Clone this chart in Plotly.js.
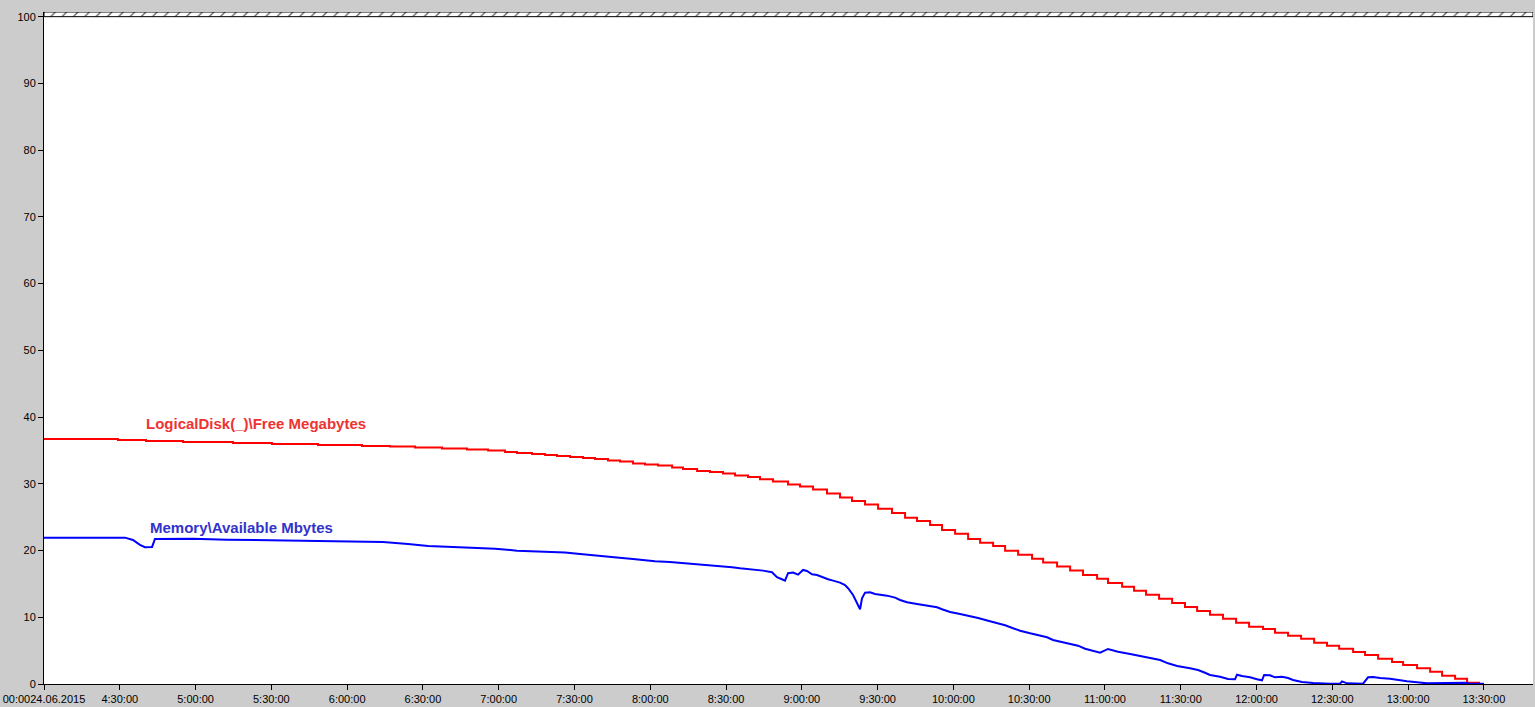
<!DOCTYPE html>
<html>
<head>
<meta charset="utf-8">
<script src="https://cdn.plot.ly/plotly-3.0.1.min.js"></script>
<style>
html,body{margin:0;padding:0;background:#cccccc;}
#chart{width:1535px;height:707px;}
</style>
</head>
<body>
<div id="chart"></div>
<script>
// Time axis in decimal hours of 24.06.2015
const tickHours = [4, 4.5, 5, 5.5, 6, 6.5, 7, 7.5, 8, 8.5, 9, 9.5, 10, 10.5, 11, 11.5, 12, 12.5, 13, 13.5];
const tickLabels = ["00:0024.06.2015", "4:30:00", "5:00:00", "5:30:00", "6:00:00", "6:30:00", "7:00:00", "7:30:00",
  "8:00:00", "8:30:00", "9:00:00", "9:30:00", "10:00:00", "10:30:00", "11:00:00", "11:30:00",
  "12:00:00", "12:30:00", "13:00:00", "13:30:00"];
const yTicks = [0, 10, 20, 30, 40, 50, 60, 70, 80, 90, 100];

const diskName = "LogicalDisk(_)\\Free Megabytes";
const diskHours = [4.000, 4.488, 4.673, 4.917, 5.247, 5.504, 5.808, 6.098, 6.283, 6.448, 6.626, 6.791, 6.930, 7.042, 7.121,
  7.220, 7.306, 7.385, 7.471, 7.556, 7.636, 7.721, 7.800, 7.886, 7.965, 8.051, 8.144, 8.216, 8.309, 8.394, 8.480,
  8.559, 8.645, 8.724, 8.810, 8.909, 8.988, 9.074, 9.166, 9.252, 9.331, 9.417, 9.503, 9.595, 9.681, 9.760, 9.846,
  9.925, 10.011, 10.097, 10.176, 10.262, 10.341, 10.427, 10.519, 10.592, 10.684, 10.770, 10.855, 10.948, 11.020,
  11.113, 11.192, 11.271, 11.357, 11.443, 11.528, 11.608, 11.693, 11.779, 11.865, 11.951, 12.043, 12.122, 12.208,
  12.294, 12.380, 12.465, 12.545, 12.637, 12.716, 12.802, 12.894, 12.967, 13.059, 13.145, 13.224, 13.310, 13.389, 13.475];
const diskValues = [36.73, 36.58, 36.43, 36.28, 36.13, 35.98, 35.83, 35.68, 35.58, 35.43, 35.28, 35.13, 34.98, 34.78, 34.63,
  34.48, 34.33, 34.18, 34.03, 33.88, 33.73, 33.51, 33.33, 33.03, 32.88, 32.73, 32.43, 32.23, 31.93, 31.78, 31.53,
  31.23, 31.03, 30.69, 30.33, 29.88, 29.58, 29.13, 28.53, 27.93, 27.44, 26.88, 26.28, 25.64, 24.93, 24.44, 23.84,
  23.09, 22.53, 21.74, 21.18, 20.69, 19.98, 19.38, 18.78, 18.19, 17.59, 16.99, 16.34, 15.79, 15.14,
  14.59, 13.99, 13.39, 12.79, 12.14, 11.54, 10.94, 10.39, 9.79, 9.19, 8.59, 8.25, 7.69, 7.24,
  6.79, 6.19, 5.74, 5.29, 4.80, 4.35, 3.79, 3.30, 2.85, 2.35, 1.84, 1.24, 0.79, 0.19, 0.19];

const memName = "Memory\\Available Mbytes";
const memHours = [4.000, 4.534, 4.587, 4.633, 4.666, 4.713, 4.732, 4.983, 5.207, 5.425, 5.689, 6.032, 6.237, 6.402, 6.534,
  6.699, 6.824, 6.976, 7.121, 7.306, 7.438, 7.537, 7.669, 7.768, 7.814, 7.886, 7.952, 8.031, 8.130, 8.216, 8.375,
  8.473, 8.540, 8.592, 8.658, 8.744, 8.803, 8.836, 8.869, 8.889, 8.909, 8.942, 8.975, 9.008, 9.034, 9.067, 9.100,
  9.133, 9.173, 9.206, 9.252, 9.285, 9.305, 9.338, 9.364, 9.384, 9.397, 9.417, 9.450, 9.483, 9.562, 9.615, 9.648,
  9.694, 9.760, 9.846, 9.892, 9.925, 9.978, 10.044, 10.110, 10.163, 10.229, 10.295, 10.341, 10.394, 10.440, 10.506,
  10.558, 10.618, 10.657, 10.717, 10.783, 10.822, 10.869, 10.915, 10.968, 11.020, 11.086, 11.166, 11.232, 11.298,
  11.364, 11.416, 11.476, 11.561, 11.614, 11.660, 11.693, 11.759, 11.812, 11.858, 11.871, 11.904, 11.957, 12.003,
  12.036, 12.050, 12.089, 12.122, 12.168, 12.208, 12.241, 12.300, 12.373, 12.485, 12.551, 12.564, 12.597, 12.703,
  12.736, 12.769, 12.815, 12.881, 12.934, 12.993, 13.059, 13.125, 13.376, 13.409, 13.501];
const memValues = [21.93, 21.93, 21.59, 20.84, 20.49, 20.54, 21.74, 21.78, 21.63, 21.54, 21.48, 21.39, 21.29, 20.99, 20.69,
  20.54, 20.39, 20.28, 19.98, 19.83, 19.69, 19.49, 19.24, 19.09, 18.89, 18.74, 18.59, 18.40, 18.29, 18.14, 17.89,
  17.69, 17.50, 17.35, 17.20, 16.99, 16.75, 16.00, 15.70, 15.49, 16.60, 16.69, 16.39, 17.09, 16.94, 16.45, 16.34,
  16.00, 15.70, 15.49, 15.19, 14.84, 14.35, 13.34, 12.09, 11.20, 12.85, 13.69, 13.75, 13.49, 13.24, 12.94, 12.59,
  12.25, 11.99, 11.74, 11.50, 11.20, 10.79, 10.49, 10.19, 9.90, 9.49, 9.10, 8.80, 8.35, 7.99, 7.60,
  7.35, 7.00, 6.60, 6.30, 6.00, 5.74, 5.29, 4.99, 4.69, 5.25, 4.84, 4.50, 4.20, 3.85,
  3.60, 3.10, 2.70, 2.35, 2.10, 1.69, 1.35, 1.09, 0.75, 0.70, 1.39, 1.20, 1.00, 0.70,
  0.55, 1.35, 1.30, 1.00, 1.09, 0.90, 0.60, 0.30, 0.15, 0.05, 0.05, 0.40, 0.10, 0.05,
  1.00, 1.05, 0.90, 0.80, 0.60, 0.40, 0.25, 0.10, 0.19, 0.05, 0.05];

const xMin = 4, xMax = 13.824, yTop = 100.7;

const traces = [
  { // hatched band above 100
    x: [xMin, xMax, xMax, xMin, xMin], y: [100, 100, yTop, yTop, 100],
    mode: 'lines', fill: 'toself', line: {color: '#000', width: 1},
    fillcolor: 'white',
    fillpattern: {shape: '/', fgcolor: '#555555', bgcolor: 'white', size: 8, solidity: 0.15},
    hoverinfo: 'skip', showlegend: false
  },
  {
    x: diskHours, y: diskValues, name: diskName, mode: 'lines',
    line: {color: '#ff0000', width: 2, shape: 'hv'}, showlegend: false
  },
  {
    x: memHours, y: memValues, name: memName, mode: 'lines',
    line: {color: '#0000ff', width: 2}, showlegend: false
  }
];

const layout = {
  width: 1535, height: 707,
  paper_bgcolor: '#cccccc', plot_bgcolor: '#ffffff',
  margin: {l: 44, r: 2, t: 12, b: 23, pad: 0},
  font: {family: 'Liberation Sans, Arial, sans-serif', size: 11, color: '#000000'},
  xaxis: {
    range: [xMin, xMax], tickvals: tickHours, ticktext: tickLabels,
    showgrid: false, zeroline: false, showline: true, linecolor: '#000', linewidth: 1,
    ticks: 'outside', ticklen: 5, tickcolor: '#000', tickfont: {size: 11, color: '#000'}, fixedrange: true
  },
  yaxis: {
    range: [0, yTop], tickvals: yTicks,
    showgrid: false, zeroline: false, showline: true, linecolor: '#000', linewidth: 1,
    ticks: 'outside', ticklen: 5, tickcolor: '#000', tickfont: {size: 11, color: '#000'}, fixedrange: true
  },
  annotations: [
    {x: 4.66, y: 39.0, xref: 'x', yref: 'y', text: diskName, showarrow: false, xanchor: 'left', yanchor: 'middle',
     font: {family: 'Liberation Sans, Arial, sans-serif', size: 15, color: '#ee3333', weight: 'bold'}},
    {x: 4.686, y: 23.5, xref: 'x', yref: 'y', text: memName, showarrow: false, xanchor: 'left', yanchor: 'middle',
     font: {family: 'Liberation Sans, Arial, sans-serif', size: 15, color: '#3333cc', weight: 'bold'}}
  ],
  showlegend: false
};

Plotly.newPlot('chart', traces, layout, {displayModeBar: false, staticPlot: true});
</script>
</body>
</html>
